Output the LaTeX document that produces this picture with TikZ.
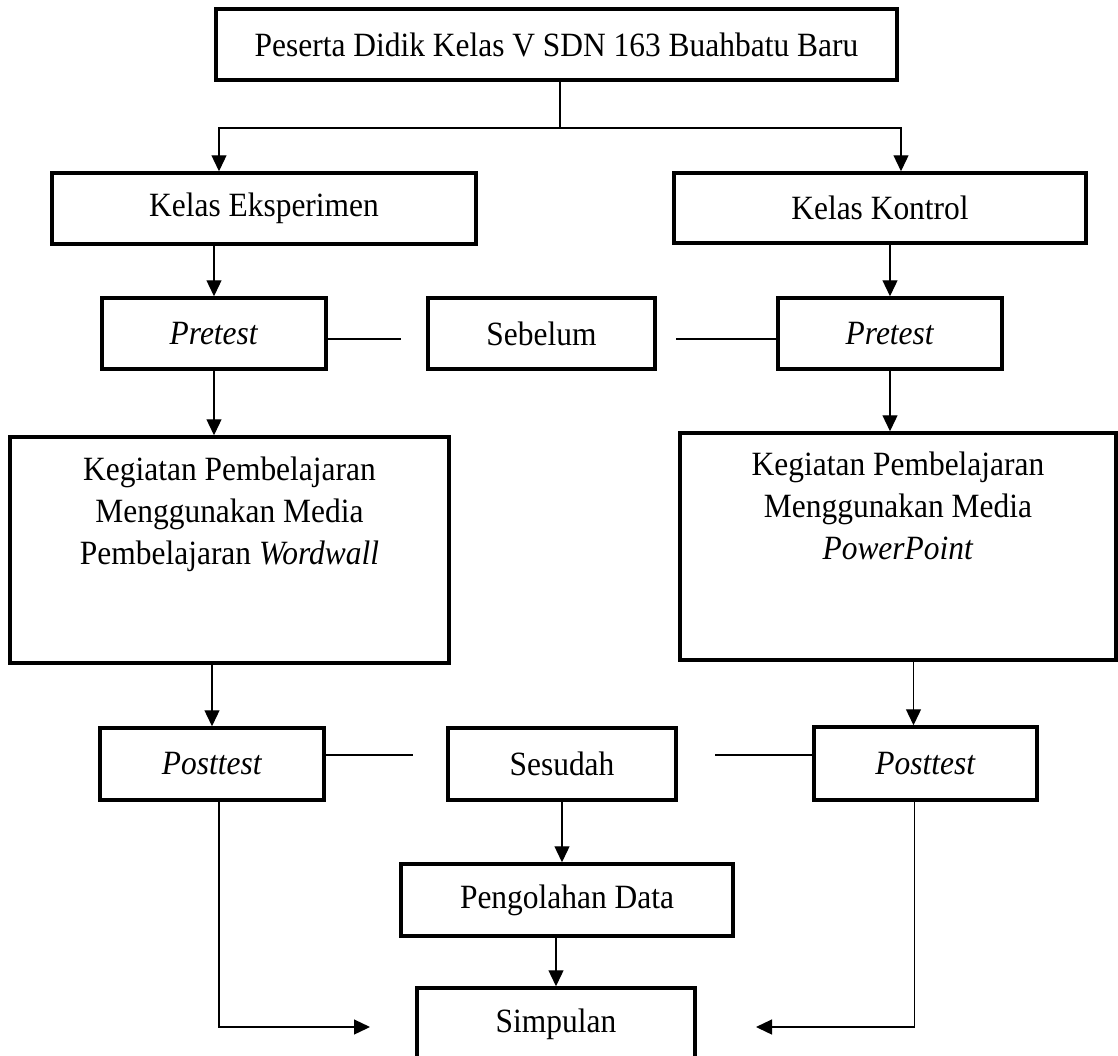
\documentclass[tikz,border=0pt]{standalone}
\usepackage{fontspec}
\setmainfont{Liberation Serif}[FakeStretch=0.925]
\usetikzlibrary{arrows.meta}

\begin{document}
\begin{tikzpicture}[x=1pt, y=-1pt,
  box/.style={draw, rectangle, line width=3.5pt, inner sep=0pt, align=center,
    font=\fontsize{34}{42}\selectfont},
  link/.style={line width=1.3pt},
  arr/.style={line width=1.3pt, -{Triangle[width=15pt,length=16pt]}}]
\useasboundingbox (0,0) rectangle (1118,1055);

\node[box, minimum width=681pt, minimum height=71pt] (peserta) at (556.5,44.5) {Peserta Didik Kelas V SDN 163 Buahbatu Baru};
\node[box, minimum width=424pt, minimum height=71pt] (eksp) at (264,208.5) {Kelas Eksperimen};
\node[box, minimum width=412pt, minimum height=70pt] (kontrol) at (880,208) {Kelas Kontrol};

\node[box, minimum width=224pt, minimum height=71pt] (preE) at (214,333.5) {\textit{Pretest}};
\node[box, minimum width=227pt, minimum height=71pt] (sebelum) at (541.5,333.5) {Sebelum};
\node[box, minimum width=224pt, minimum height=71pt] (preK) at (890,333.5) {\textit{Pretest}};

\node[box] (kegE) at (229.5,550) {\parbox[c][226pt][t]{439pt}{\centering\rule{0pt}{43pt}Kegiatan Pembelajaran\\Menggunakan Media\\Pembelajaran \textit{Wordwall}}};
\node[box] (kegK) at (898,546.5) {\parbox[c][227pt][t]{436pt}{\centering\rule{0pt}{42pt}Kegiatan Pembelajaran\\Menggunakan Media\\\textit{PowerPoint}}};

\node[box, minimum width=224pt, minimum height=72pt] (postE) at (212,764) {\textit{Posttest}};
\node[box, minimum width=228pt, minimum height=72pt] (sesudah) at (562,764) {Sesudah};
\node[box, minimum width=223pt, minimum height=73pt] (postK) at (925.5,763.5) {\textit{Posttest}};

\node[box, minimum width=332pt, minimum height=72pt] (olah) at (567,900) {Pengolahan Data};
\node[box, minimum width=278pt, minimum height=72pt] (simpulan) at (556,1024) {Simpulan};

\coordinate (split) at (560,128);
\coordinate (sbL) at (401,339);
\coordinate (sbR) at (676,339);
\coordinate (seL) at (413,755);
\coordinate (seR) at (715,755);
\coordinate (simL) at (370,1027);
\coordinate (simR) at (756,1027);
\coordinate (kK) at ([xshift=-12pt]postK.north);

\draw[link] (peserta.south -| split) -- (split);
\draw[arr] (split) -| ([xshift=-45pt]eksp.north);
\draw[arr] (split) -| ([xshift=21pt]kontrol.north);
\draw[arr] (preE.north |- eksp.south) -- (preE.north);
\draw[arr] (preK.north |- kontrol.south) -- (preK.north);
\draw[link] (preE.east |- sbL) -- (sbL);
\draw[link] (sbR) -- (preK.west |- sbR);
\draw[arr] (preE.south) -- (preE.south |- kegE.north);
\draw[arr] (preK.south) -- (preK.south |- kegK.north);
\draw[arr] (postE.north |- kegE.south) -- (postE.north);
\draw[arr] (kK |- kegK.south) -- (kK);
\draw[link] (postE.east |- seL) -- (seL);
\draw[link] (seR) -- (postK.west |- seR);
\draw[arr] (sesudah.south) -- (sesudah.south |- olah.north);
\draw[arr] (simpulan.north |- olah.south) -- (simpulan.north);
\draw[arr] ([xshift=7pt]postE.south) |- (simL);
\draw[arr] ([xshift=-11pt]postK.south) |- (simR);
\end{tikzpicture}
\end{document}
